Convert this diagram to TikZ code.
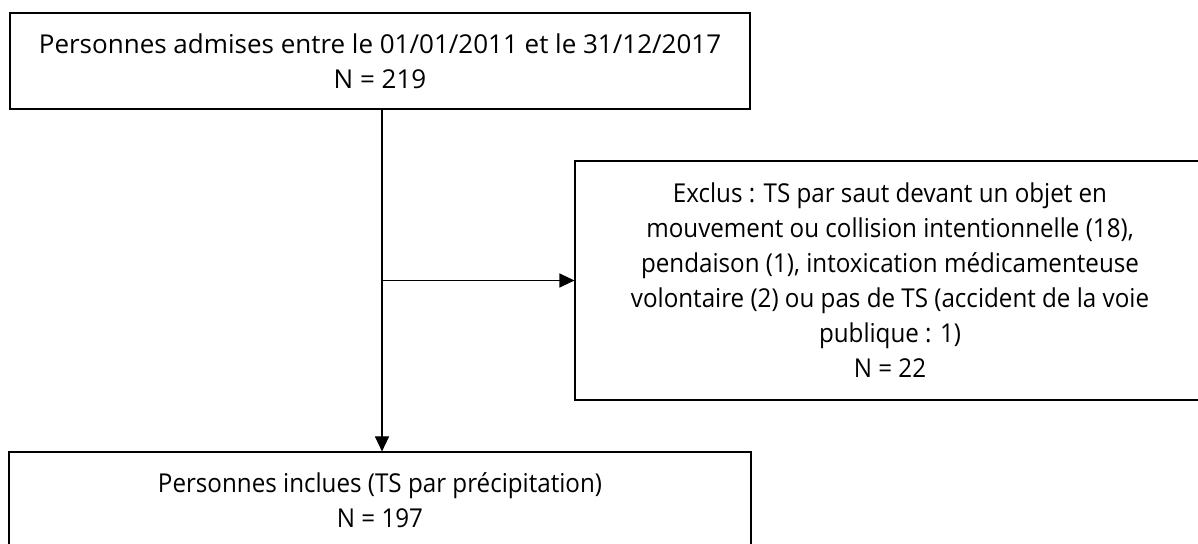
\documentclass[tikz,border=0pt]{standalone}
\usepackage{fontspec}
\setmainfont{Open Sans}
\newfontfamily\narrowfont[FakeStretch=0.93]{Open Sans}
\usetikzlibrary{arrows.meta}

\tikzset{
   box/.style={draw, line width=1.1pt, inner sep=0pt, align=center,
      font=\fontsize{26}{35}\selectfont},
   narrowbox/.style={box, font=\narrowfont\fontsize{26}{35}\selectfont},
   flow/.style={line width=1.1pt, -{Triangle[length=15pt,width=14pt]}}
}

\begin{document}
\begin{tikzpicture}[x=1pt,y=1pt]%
   \useasboundingbox (0,0) rectangle (1198,543);
   \node[box, minimum width=740pt, minimum height=96pt] (admis) at (380,482)
      {Personnes admises entre le 01/01/2011 et le 31/12/2017\\N = 219};
   \node[narrowbox, minimum width=630pt, minimum height=239pt] (exclus) at (890,262.5)
      {Exclus : TS par saut devant un objet en\\mouvement ou collision intentionnelle (18),\\pendaison (1), intoxication médicamenteuse\\volontaire (2) ou pas de TS (accident de la voie\\publique : 1)\\N = 22};
   \node[narrowbox, minimum width=742pt, minimum height=96pt] (inclus) at (380,43)
      {Personnes inclues (TS par précipitation)\\N = 197};
   \draw[flow] ([xshift=2pt]admis.south) -- ([xshift=2pt]inclus.north);
   \draw[flow] ([xshift=2pt]admis.south |- exclus.west) -- (exclus.west);
\end{tikzpicture}
\end{document}
